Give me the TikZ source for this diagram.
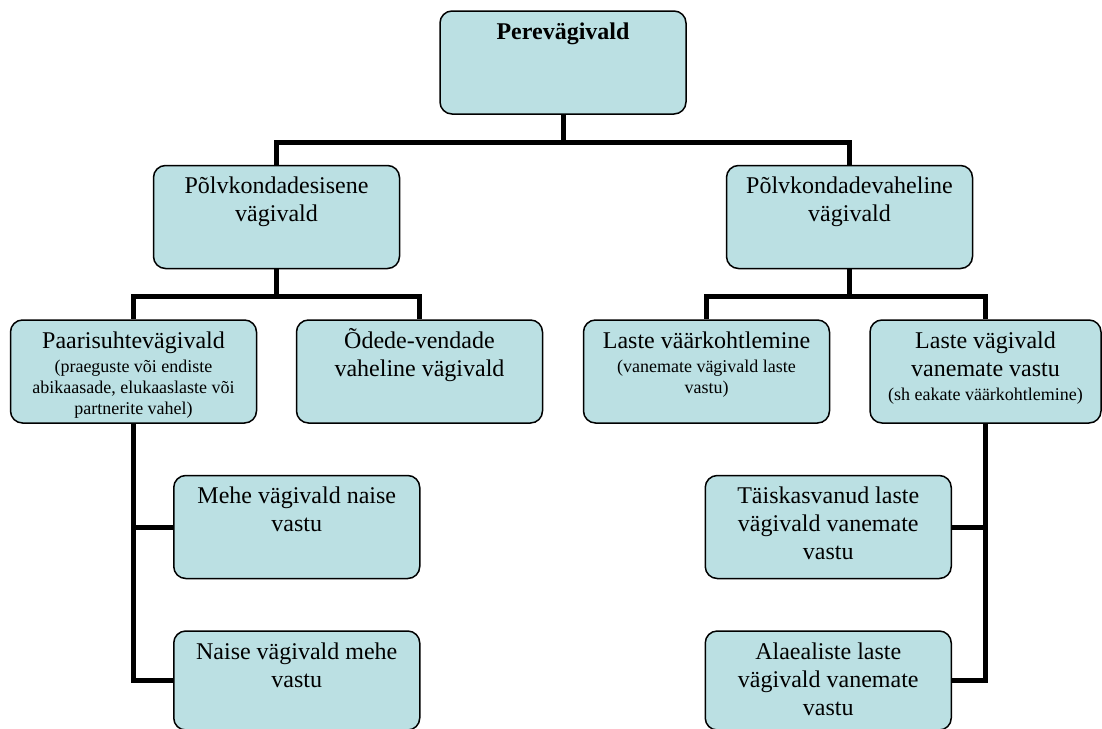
\documentclass[tikz,border=0pt]{standalone}
\usepackage[svgnames]{xcolor}
\usepackage{fontspec}
\setmainfont{Liberation Serif}
\newfontfamily\boxfont{Liberation Serif}
\usepackage{tikz}
\usetikzlibrary{positioning}

\definecolor{boxfill}{RGB}{187,224,227}
\newcommand{\smalltxt}[1]{\par\vspace{1.5pt}{\fontsize{9}{10.5}\selectfont #1\par}}

\tikzset{
  boxw/.store in=\boxw, boxw=123pt,
  boxh/.store in=\boxh, boxh=51.5pt,
  famnode/.style={draw=black, line width=0.75pt, fill=boxfill, rounded corners=6pt, inner sep=0pt,
    execute at begin node={\vbox to \boxh\bgroup\hsize=\boxw\parindent=0pt\centering
      \boxfont\fontsize{12}{14}\selectfont\rule{0pt}{14pt}},
    execute at end node={\par\vfil\egroup}},
  conn/.style={draw=black, line width=2.5pt},
  bus/.style={edge from parent path={(\tikzparentnode.south) -- ++(0,-#1) -| (\tikzchildnode.north)}}
}

\begin{document}
\begin{tikzpicture}[x=0.5pt, y=0.5pt, level distance=77.25pt,
    level 1/.style={sibling distance=286.5pt, bus=14pt},
    level 2/.style={sibling distance=143pt, bus=13.5pt},
    edge from parent/.style={conn}]
    \useasboundingbox (0,0) rectangle (1102,-728);
    \node[famnode] (pere) at (563,-62.5) {\textbf{Perevägivald}}
    child {node[famnode] (sisene) {Põlvkondadesisene\\ vägivald}
      child {node[famnode] (paar) {Paarisuhtevägivald\smalltxt{(praeguste või endiste\\ abikaasade, elukaaslaste või\\ partnerite vahel)}}}
      child {node[famnode] (ode) {Õdede-vendade\\ vaheline vägivald}}
    }
    child {node[famnode] (vahel) {Põlvkondadevaheline\\ vägivald}
      child {node[famnode] (laps) {Laste väärkohtlemine\smalltxt{(vanemate vägivald laste\\ vastu)}}}
      child {node[famnode, boxw=115.5pt, xshift=-3.5pt] (vanem) {Laste vägivald\\ vanemate vastu\smalltxt{(sh eakate väärkohtlemine)}}}
    };

    % paarisuhe
    \node[famnode, below right=25.5pt and 19.75pt of paar.south] (mehe) {Mehe vägivald naise\\ vastu};
    \node[famnode, boxh=49.5pt, below=25.5pt of mehe] (naise) {Naise vägivald mehe\\ vastu};
    \draw[conn] (paar.south) |- (mehe.west);
    \draw[conn] (paar.south) |- (naise.west);

    % vanemate vastu
    \node[famnode, below left=25.5pt and 16.75pt of vanem.south] (taisk) {Täiskasvanud laste\\ vägivald vanemate\\ vastu};
    \node[famnode, boxh=49.5pt, below=25.5pt of taisk] (alaeal) {Alaealiste laste\\ vägivald vanemate\\ vastu};
    \draw[conn] (vanem.south) |- (taisk.east);
    \draw[conn] (vanem.south) |- (alaeal.east);
\end{tikzpicture}
\end{document}
